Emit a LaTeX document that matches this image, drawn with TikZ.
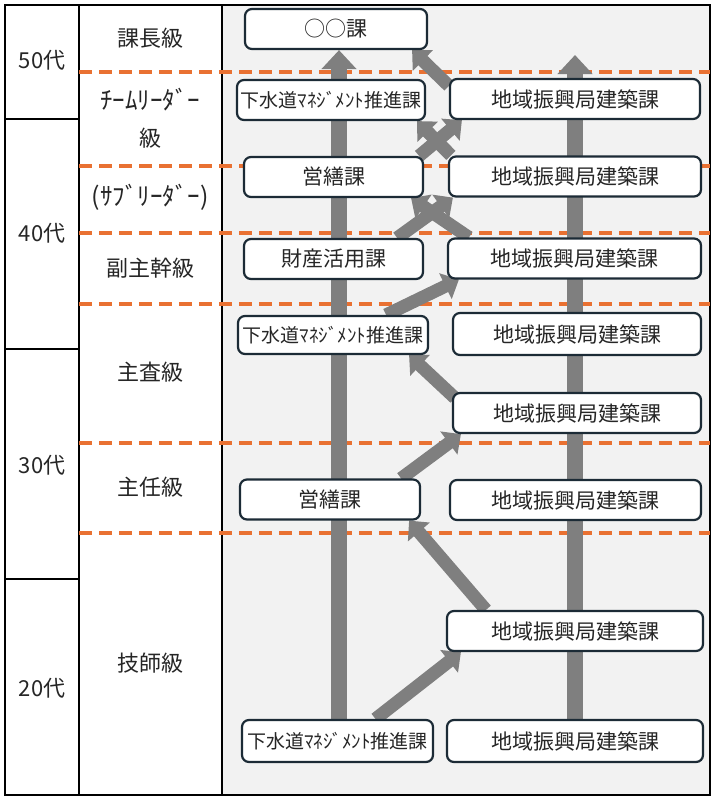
\documentclass[tikz,border=0pt]{standalone}
\usepackage{fontspec}
\setmainfont{Noto Sans CJK JP}
\usetikzlibrary{arrows.meta,backgrounds}
\definecolor{ink}{HTML}{262626}
\definecolor{boxline}{HTML}{1C2B36}
\definecolor{flowgray}{HTML}{7F7F7F}
\definecolor{bandorange}{HTML}{E97132}
\definecolor{paneltint}{HTML}{F2F2F2}

\tikzset{
  post/.style={draw=boxline,line width=2.2pt,rounded corners=7pt,fill=white,
    minimum height=40pt,inner sep=0pt,text=ink,font=\fontsize{21}{24}\selectfont},
  sewer/.style={post,font=\fontsize{19}{22}\selectfont},
  flow/.style={draw=flowgray,line width=16pt,-{Triangle[width=34pt,length=19pt]}},
  transfer/.style={draw=flowgray,line width=13pt,-{Triangle[width=28pt,length=15pt]}},
  grade/.style={text=ink,inner sep=0pt,font=\fontsize{22}{26}\selectfont},
  hankaku/.style={grade,font=\fontsize{25}{28}\selectfont},
}

\begin{document}
\begin{tikzpicture}[x=1pt,y=-1pt,line cap=butt,line join=miter]
  \useasboundingbox (0,0) rectangle (715,801);
  % age and grade columns
  \node[grade] (a50) at (42,60) {50代};
  \node[grade] (a40) at (42,233) {40代};
  \node[grade] (a30) at (42,465) {30代};
  \node[grade] (a20) at (42,688) {20代};
  \node[grade] (kacho) at (150,38) {課長級};
  \node[hankaku] (leader) at (150,100) {ﾁｰﾑﾘｰﾀﾞｰ};
  \node[grade] (leaderk) at (150,138) {級};
  \node[hankaku] (subl) at (150,197) {(ｻﾌﾞﾘｰﾀﾞｰ)};
  \node[grade] (fuku) at (150,268) {副主幹級};
  \node[grade] (shusa) at (150,372) {主査級};
  \node[grade] (shunin) at (150,487) {主任級};
  \node[grade] (gishi) at (150,663) {技師級};
  % posts, left line
  \node[post,minimum width=182pt] (ka) at (336,29) {○○課};
  \node[sewer,minimum width=188pt] (gs3) at (331,100) {下水道ﾏﾈｼﾞﾒﾝﾄ推進課};
  \node[post,minimum width=179pt] (ez2) at (333.5,177) {営繕課};
  \node[post,minimum width=179pt] (zs) at (333.5,259) {財産活用課};
  \node[sewer,minimum width=190pt,minimum height=38pt] (gs2) at (333,335) {下水道ﾏﾈｼﾞﾒﾝﾄ推進課};
  \node[post,minimum width=180pt] (ez1) at (330,499.5) {営繕課};
  \node[sewer,minimum width=191pt,minimum height=42pt] (gs1) at (337.5,741) {下水道ﾏﾈｼﾞﾒﾝﾄ推進課};
  % posts, right line
  \node[post,minimum width=250pt] (r1) at (575,99) {地域振興局建築課};
  \node[post,minimum width=252pt] (r2) at (575,176.5) {地域振興局建築課};
  \node[post,minimum width=253pt] (r3) at (574.5,258.5) {地域振興局建築課};
  \node[post,minimum width=248pt,minimum height=42pt] (r4) at (577,334) {地域振興局建築課};
  \node[post,minimum width=248pt] (r5) at (577,413) {地域振興局建築課};
  \node[post,minimum width=251pt] (r6) at (575.5,500) {地域振興局建築課};
  \node[post,minimum width=256pt] (r7) at (575,631) {地域振興局建築課};
  \node[post,minimum width=256pt,minimum height=42pt] (r8) at (575,741) {地域振興局建築課};
  \coordinate (rtop) at (575,55);

  \begin{scope}[on background layer]
    \fill[paneltint] (222,5) rectangle (710,795);
    \draw[line width=1.5pt] (5,5) rectangle (710,795);
    \draw[line width=2pt] (79,5) -- (79,795);
    \draw[line width=1.2pt] (222,5) -- (222,795);
    \foreach \y in {119,349,579}
      \draw[line width=1.2pt] (5,\y) -- (79,\y);
    \foreach \y in {72,166,233,304,443,533}
      \draw[bandorange,line width=4.5pt,dash pattern=on 13pt off 7pt] (79,\y) -- (710,\y);
    % career paths
    \draw[flow] ([xshift=1.5pt]gs1.north) -- ([xshift=1.5pt]gs1.north |- ka.south);
    \draw[flow] (r8.north) -- (rtop);
    \draw[transfer] ([xshift=38pt]gs1.north) -- ([xshift=15pt]r7.south west);
    \draw[transfer] ([xshift=40pt]r7.north west) -- ([xshift=-12pt]ez1.south east);
    \draw[transfer] ([xshift=-20pt]ez1.north east) -- ([xshift=9pt]r5.south west);
    \draw[transfer] ([xshift=3pt,yshift=-6pt]r5.north west) -- ([xshift=-20pt]gs2.south east);
    \draw[transfer] ([xshift=-43pt]gs2.north east) -- ([xshift=12pt]r3.south west);
    \draw[transfer] ([xshift=-27pt]zs.north east) -- ([xshift=5pt]r2.south west);
    \draw[transfer] ([xshift=22pt]r3.north west) -- ([xshift=-13pt]ez2.south east);
    \draw[transfer] ([xshift=-5pt]ez2.north east) -- ([xshift=13pt]r1.south west);
    \draw[transfer] ([xshift=3pt]r2.north west) -- ([xshift=-9pt]gs3.south east);
    \draw[transfer] ([yshift=-8pt]r1.north west) -- ([xshift=-16pt]ka.south east);
  \end{scope}
\end{tikzpicture}
\end{document}
